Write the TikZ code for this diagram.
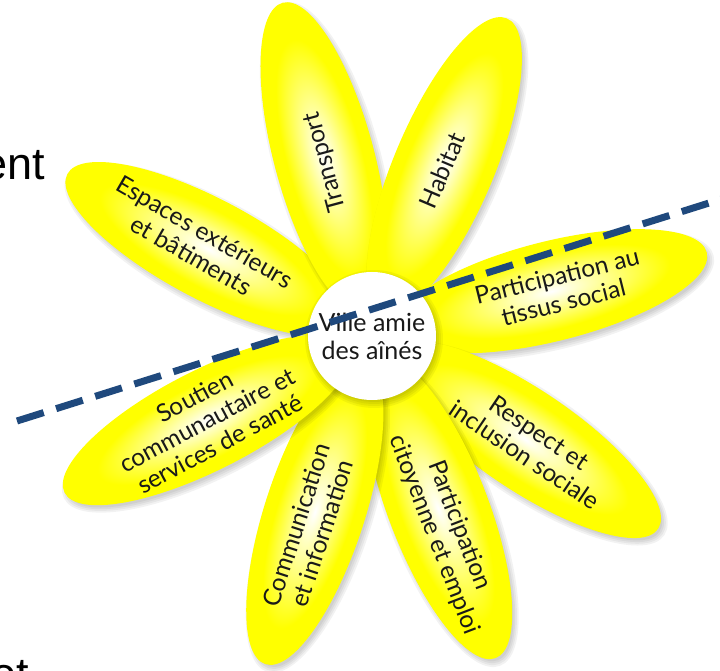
\documentclass[tikz,border=0pt]{standalone}
\usepackage{fontspec}
\setmainfont{Lato}
\newfontfamily\slidefont{Liberation Sans}

\definecolor{petalyellow}{RGB}{255,255,0}
\definecolor{cutblue}{RGB}{31,73,125}
\pgfdeclareradialshading{petalshade}{\pgfpointorigin}{color(0bp)=(white); color(7bp)=(white!65!petalyellow); color(19bp)=(petalyellow); color(25bp)=(petalyellow); color(50bp)=(petalyellow)}

\tikzset{
    petal/.style = {shading=petalshade},
    petalshadow/.style = {fill=black, opacity=0.05},
    petaltext/.style = {font=\fontsize{24.5}{27}\selectfont, align=center, text=black!90},
    slidetext/.style = {font=\slidefont\fontsize{45}{50}\selectfont, anchor=base east, inner sep=0pt}
}

\begin{document}
\begin{tikzpicture}[x=1pt, y=1pt]
    \useasboundingbox (-372,-335) rectangle (348,336);
    \node[slidetext] (slideA) at (-327,156) {ent};
    \node[slidetext] (slideB) at (-343,-353) {et};
    % petals: angle / text angle / text distance / text
    \foreach \a/\t/\d/\txt [count=\i] in {
            152/-30/197/{Espaces extérieurs\\et bâtiments},
            105/105/180/Transport,
            67/67/180/Habitat,
            14/14/194/{Participation au\\tissus social},
            -34/-34/193/{Respect et\\inclusion sociale},
            -69/-69/208/{Participation\\citoyenne et emploi},
            -108/72/203/{Communication\\et information},
            207/28/185/{Soutien\\communautaire et\\services de santé}} {
        \foreach \k in {1,...,4} {
            \begin{scope}[transform canvas={shift={(3pt,-4pt)}, rotate=\a}]
                \fill[petalshadow] (185,0) ellipse [x radius=156pt+\k*2pt, y radius=46pt+\k*2pt];
            \end{scope}
        }
        \begin{scope}[transform canvas={rotate=\a}]
            \shade[petal] (185,0) ellipse [x radius=160pt, y radius=50pt];
        \end{scope}
        \node[petaltext, rotate=\t] (petal\i) at (\a:\d) {\txt};
    }
    % centre
    \foreach \k in {1,...,4}
        \fill[petalshadow] (2,-3) circle [radius=61pt+\k*2pt];
    \node[circle, fill=white, minimum size=128pt, inner sep=0pt, petaltext, font=\fontsize{25}{28}\selectfont] (centre) at (0,0) {Ville amie\\des aînés};
    % cut line
    \coordinate (cutW) at (-355,-85);
    \coordinate (cutE) at (372,144);
    \draw[cutblue, line width=7pt, dash pattern=on 28pt off 13pt] (cutW) -- (cutE);
\end{tikzpicture}
\end{document}
